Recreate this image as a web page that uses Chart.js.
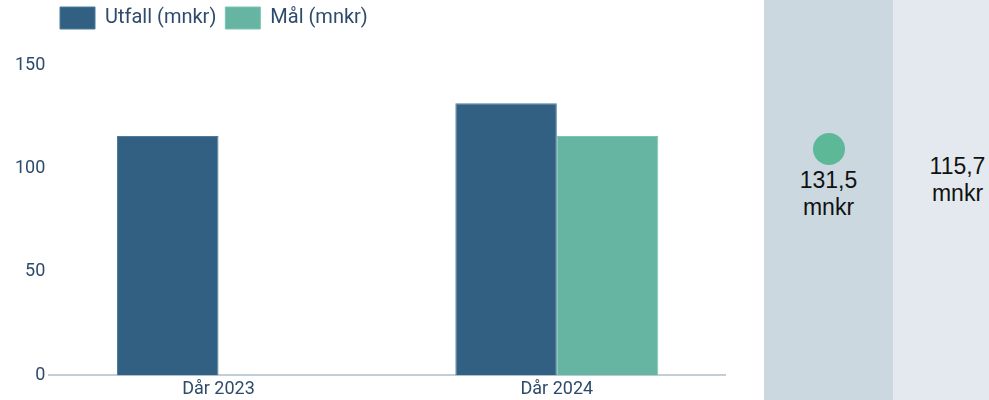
<!DOCTYPE html>
<html>
<head>
<meta charset="utf-8">
<script src="https://cdn.jsdelivr.net/npm/chart.js@4"></script>
<style>
  body { margin: 0; background: #fff; }
  #wrap { position: relative; width: 989px; height: 400px; overflow: hidden; }
  #chartBox { position: absolute; left: 0; top: 0; width: 726px; height: 400px; }
  .panel { position: absolute; top: 0; height: 400px; font-family: "Liberation Sans", Arial, sans-serif; color: #111; text-align: center; font-size: 23px; line-height: 27px; }
  #p1 { left: 764px; width: 129px; background: #cbd8e0; }
  #p2 { left: 893px; width: 129px; background: #e3e9ee; }
  .dot { width: 32px; height: 32px; border-radius: 50%; background: #5cb897; margin: 0 auto 2px; }
</style>
</head>
<body>
<div id="wrap">
  <div id="chartBox"><canvas id="bars"></canvas></div>
  <div class="panel" id="p1"><div style="position:absolute;left:0;right:0;top:133px"><div class="dot"></div><div id="v1"></div><div>mnkr</div></div></div>
  <div class="panel" id="p2"><div style="position:absolute;left:0;right:0;top:153px"><div id="v2"></div><div>mnkr</div></div></div>
</div>
<script>
var years = ['Dår 2023', 'Dår 2024'];
var utfall = [115.7, 131.5];
var mal = [null, 115.7];
var yTicks = [0, 50, 100, 150];

var fmt = function(v) { return v.toFixed(1).replace('.', ','); };
document.getElementById('v1').textContent = fmt(utfall[1]);
document.getElementById('v2').textContent = fmt(mal[1]);

// push legend right and leave more room under it
var legendShift = {
    id: 'legendShift',
    beforeInit: function(chart) {
        var fit = chart.legend.fit;
        chart.legend.fit = function() {
            fit.bind(chart.legend)();
            this.height += 26;
        };
    },
    afterLayout: function(chart) {
        chart.legend.left += 40;
    }
};

var txt = '#2f4b6c';
new Chart(document.getElementById('bars'), {
    type: 'bar',
    data: {
        labels: years,
        datasets: [{
            label: 'Utfall (mnkr)',
            data: utfall,
            backgroundColor: '#316083',
            borderColor: '#4f7a9a',
            borderWidth: 1,
            categoryPercentage: 0.6,
            barPercentage: 1
        }, {
            label: 'Mål (mnkr)',
            data: mal,
            backgroundColor: '#66b5a3',
            borderColor: '#7ec3b3',
            borderWidth: 1,
            categoryPercentage: 0.6,
            barPercentage: 1
        }]
    },
    plugins: [legendShift],
    options: {
        maintainAspectRatio: false,
        animation: false,
        layout: { padding: { left: 11, right: 0, top: -2, bottom: -3 } },
        plugins: {
            legend: {
                align: 'start',
                labels: {
                    boxWidth: 35,
                    boxHeight: 22,
                    color: txt,
                    font: { family: 'Roboto', size: 20 },
                    padding: 9
                }
            },
            tooltip: { enabled: false }
        },
        scales: {
            x: {
                grid: { display: false, tickLength: 0 },
                border: { color: '#c3ced8', width: 2 },
                ticks: { color: txt, font: { family: 'Roboto', size: 18 }, padding: 3 }
            },
            y: {
                min: 0,
                max: yTicks[yTicks.length - 1],
                afterBuildTicks: function(axis) { axis.ticks = yTicks.map(function(v) { return { value: v }; }); },
                grid: { display: false, tickLength: 0 },
                border: { display: false },
                ticks: { color: txt, font: { family: 'Roboto', size: 18 }, padding: 4 }
            }
        }
    }
});
</script>
</body>
</html>
